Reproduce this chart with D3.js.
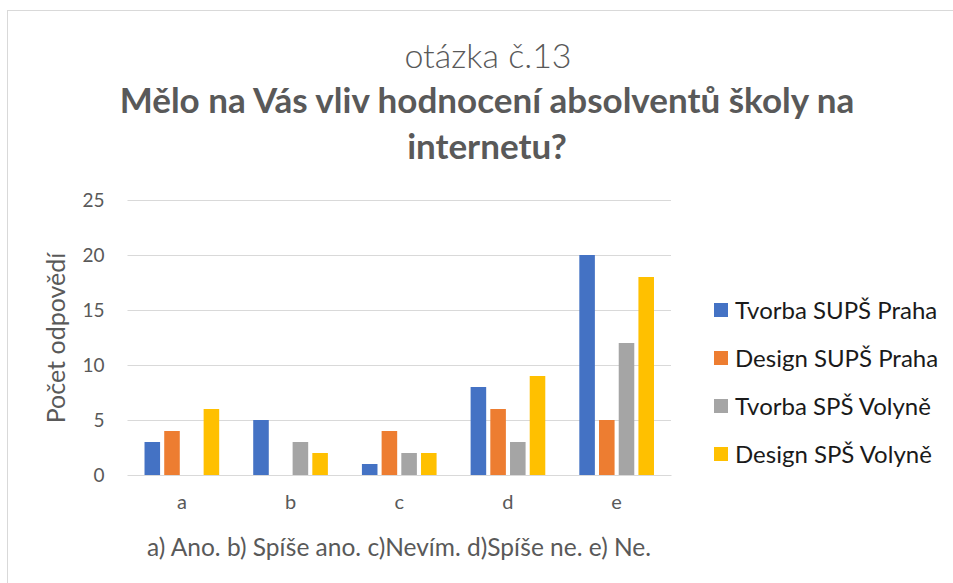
<!DOCTYPE html>
<html lang="cs">
<head>
    <meta charset="UTF-8">
    <title>otázka č.13</title>
    <script src="https://d3js.org/d3.v7.min.js"></script>
    <style>
        body { margin: 0; background: #fff; }
        text { font-family: Lato, "Open Sans", sans-serif; }
    </style>
</head>
<body>
    <div id="chart"></div>

    <script>
        // chart data
        const categories = ["a", "b", "c", "d", "e"];
        const seriesNames = ["Tvorba SUPŠ Praha", "Design SUPŠ Praha", "Tvorba SPŠ Volyně", "Design SPŠ Volyně"];
        const tvorbaPraha = [3, 5, 1, 8, 20];
        const designPraha = [4, 0, 4, 6, 5];
        const tvorbaVolyne = [0, 3, 2, 3, 12];
        const designVolyne = [6, 2, 2, 9, 18];
        const yTicks = [0, 5, 10, 15, 20, 25];

        const seriesValues = [tvorbaPraha, designPraha, tvorbaVolyne, designVolyne];
        const colors = ["#4472C4", "#ED7D31", "#A5A5A5", "#FFC000"];

        const width = 953, height = 583;
        const plot = { left: 127.5, right: 671, top: 200, bottom: 475 };

        const svg = d3.select("#chart")
                      .append("svg")
                      .attr("width", width)
                      .attr("height", height);

        // outer chart border
        svg.append("rect")
           .attr("x", 7.5)
           .attr("y", 10.5)
           .attr("width", 960)
           .attr("height", 600)
           .attr("fill", "#fff")
           .attr("stroke", "#D9D9D9")
           .attr("stroke-width", 1);

        // titles
        svg.append("text")
           .attr("x", 488)
           .attr("y", 68)
           .attr("text-anchor", "middle")
           .attr("font-size", "34px")
           .attr("font-weight", 300)
           .attr("fill", "#595959")
           .text("otázka č.13");

        const boldLines = ["Mělo na Vás vliv hodnocení absolventů školy na", "internetu?"];
        boldLines.forEach((line, i) => {
            svg.append("text")
               .attr("x", 487)
               .attr("y", 113 + i * 46)
               .attr("text-anchor", "middle")
               .attr("font-size", "35px")
               .attr("font-weight", "bold")
               .attr("fill", "#595959")
               .text(line);
        });

        const x = d3.scaleBand()
                    .domain(categories)
                    .range([plot.left, plot.right])
                    .paddingInner(0.275)
                    .paddingOuter(0.1375);

        const xInner = d3.scaleBand()
                         .domain(seriesNames)
                         .range([0, x.bandwidth()])
                         .paddingInner(0.21)
                         .paddingOuter(0.105);

        const y = d3.scaleLinear()
                    .domain([0, 25])
                    .range([plot.bottom, plot.top]);

        // gridlines + y labels
        const yAxis = d3.axisLeft(y)
                        .tickValues(yTicks)
                        .tickSize(-(plot.right - plot.left))
                        .tickPadding(23);

        const yg = svg.append("g")
                      .attr("transform", `translate(${plot.left},0)`)
                      .call(yAxis);
        yg.select(".domain").remove();
        yg.selectAll(".tick line")
          .attr("stroke", "#D9D9D9")
          .attr("stroke-width", 1.2);
        yg.selectAll(".tick text")
          .attr("fill", "#595959")
          .attr("font-size", "19px")
          .attr("font-family", "Lato, sans-serif");

        // bars
        seriesNames.forEach((name, s) => {
            svg.append("g")
               .selectAll("rect")
               .data(seriesValues[s])
               .join("rect")
               .attr("x", (d, i) => x(categories[i]) + xInner(name))
               .attr("y", d => y(d))
               .attr("width", xInner.bandwidth())
               .attr("height", d => y(0) - y(d))
               .attr("fill", colors[s]);
        });

        // x axis
        const xAxis = d3.axisBottom(x).tickSize(0).tickPadding(20);
        const xg = svg.append("g")
                      .attr("transform", `translate(0,${plot.bottom})`)
                      .call(xAxis);
        xg.select(".domain")
          .attr("stroke", "#D9D9D9")
          .attr("stroke-width", 1.2);
        xg.selectAll(".tick text")
          .attr("fill", "#595959")
          .attr("font-size", "20px")
          .attr("font-family", "Lato, sans-serif");

        // axis titles
        svg.append("text")
           .attr("x", 399)
           .attr("y", 556)
           .attr("text-anchor", "middle")
           .attr("font-size", "24.5px")
           .attr("fill", "#595959")
           .text("a) Ano. b) Spíše ano. c)Nevím. d)Spíše ne. e) Ne.");

        svg.append("text")
           .attr("transform", "translate(65,338) rotate(-90)")
           .attr("text-anchor", "middle")
           .attr("font-size", "25px")
           .attr("fill", "#595959")
           .text("Počet odpovědí");

        // legend
        const legend = svg.append("g")
                          .selectAll("g")
                          .data(seriesNames)
                          .join("g")
                          .attr("transform", (d, i) => `translate(714,${310 + i * 48})`);
        legend.append("rect")
              .attr("x", 0)
              .attr("y", -7)
              .attr("width", 14)
              .attr("height", 14)
              .attr("fill", (d, i) => colors[i]);
        legend.append("text")
              .attr("x", 21)
              .attr("y", 8.5)
              .attr("font-size", "24px")
              .attr("fill", "#1a1a1a")
              .text(d => d);
    </script>
</body>
</html>
